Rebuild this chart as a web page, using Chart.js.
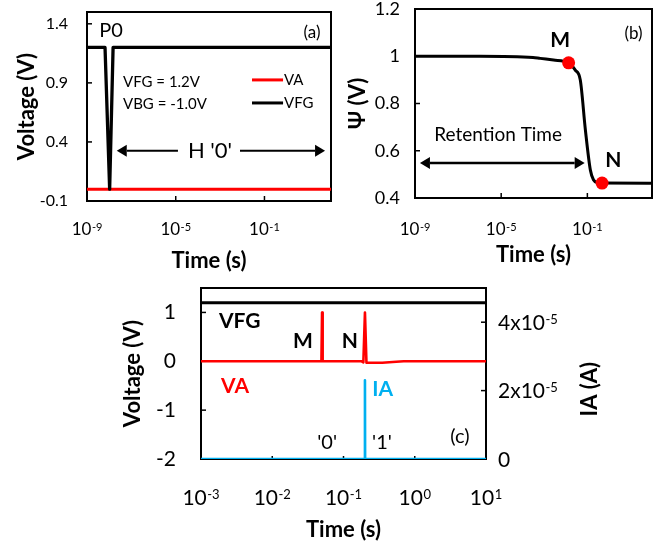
<!DOCTYPE html>
<html><head><meta charset="utf-8">
<script src="https://cdn.jsdelivr.net/npm/chart.js@4.4.0/dist/chart.umd.min.js"></script>
<style>
html,body{margin:0;padding:0;background:#fff;width:670px;height:545px;overflow:hidden}
#wrap{position:relative;width:670px;height:545px;background:#fff}
canvas{position:absolute}
</style></head><body>
<div id="wrap">
<canvas id="ca" width="345" height="275" style="left:0;top:0"></canvas>
<canvas id="cb" width="335" height="275" style="left:335px;top:0"></canvas>
<canvas id="cc" width="520" height="270" style="left:110px;top:275px"></canvas>
</div>
<script>
// ---------- Panel (a) ----------
const aTicksX = [1e-9, 1e-5, 1e-1];
const aTicksY = [-0.1, 0.4, 0.9, 1.4];
const aVATime = [1e-9, 100];
const aVA = [0, 0];
const aVFGTime = [1e-9, 6.5e-9, 1.05e-8, 1.5e-8, 100];
const aVFG = [1.2, 1.2, 0, 1.2, 1.2];
// ---------- Panel (b) ----------
const bTicksX = [1e-9, 1e-5, 1e-1];
const bTicksY = [0.4, 0.6, 0.8, 1.0, 1.2];
const bTime = [1e-9, 1e-6, 3e-4, 6.5e-4, 2.7e-3, 0.0135, 0.0275, 0.047, 0.081, 0.138, 0.195, 0.3, 0.48, 100];
const bPsi  = [1.0, 1.0, 0.995, 0.991, 0.984, 0.972, 0.941, 0.899, 0.688, 0.518, 0.476, 0.465, 0.463, 0.462];
const bMarkLabels = ['M', 'N'];
const bMarkTime = [0.0135, 0.48];
const bMarkPsi = [0.972, 0.463];
// ---------- Panel (c) ----------
const cTicksX = [1e-3, 1e-2, 1e-1, 1, 10];
const cTicksY = [-2, -1, 0, 1];
const cTicksIA = [0, 2e-5, 4e-5];
const cVFGTime = [1e-3, 10];
const cVFG = [1.2, 1.2];
const cVATime = [1e-3, 0.049, 0.05, 0.051, 0.18, 0.19, 0.2, 0.21, 0.35, 0.55, 0.7, 10];
const cVA     = [0, 0, 1, 0, 0, -0.02, 1, -0.03, -0.03, -0.01, 0, 0];
const cIATime = [1e-3, 0.199, 0.2, 0.201, 10];
const cIA     = [0, 0, 2.3e-5, 0, 0];

const FONT = "Lato, 'DejaVu Sans', sans-serif";
const RED = '#ff0000', BLUE = '#00b0f0', BLACK = '#000000';
Chart.defaults.font.family = FONT;
Chart.defaults.color = '#000';

const zip = (xs, ys) => xs.map((x, i) => ({x: x, y: ys[i]}));
const numLabel = v => String(+(+v).toFixed(3));
// power-of-ten label parts: [base, exponent]
const logParts = v => ['10', String(Math.round(Math.log10(v)))];
const iaParts = v => v === 0 ? ['0', ''] : [Math.round(v / 1e-5) + 'x10', '-5'];
const fixW = w => s => { s.width = w; s.paddingTop = 0; s.paddingBottom = 0; };
const fixH = h => s => { s.height = h; s.paddingLeft = 0; s.paddingRight = 0; };
const setTicks = vals => s => { s.ticks = vals.map(v => ({value: v})); };
const noGrid = {display: false, drawTicks: false};

function drawPow(ctx, base, exp, x, y, size, align) {
  const f1 = size + 'px ' + FONT, s2 = Math.round(size * 0.62), f2 = s2 + 'px ' + FONT;
  ctx.font = f1; const w1 = ctx.measureText(base).width;
  ctx.font = f2; const w2 = exp ? ctx.measureText(exp).width + 0.5 : 0;
  const total = w1 + w2;
  const x0 = align === 'left' ? x : x - total / 2;
  const baseY = y + size * 0.36;
  ctx.textAlign = 'left'; ctx.textBaseline = 'alphabetic';
  ctx.font = f1; ctx.fillText(base, x0, baseY);
  if (exp) { ctx.font = f2; ctx.fillText(exp, x0 + w1 + 0.5, baseY - size * 0.72 + s2 * 0.72); }
}

const deco = {
  id: 'deco',
  beforeDatasetsDraw(chart, args, opts) {
    const ctx = chart.ctx, ca = chart.chartArea;
    ctx.save();
    ctx.strokeStyle = '#000';
    ctx.lineWidth = 2;
    ctx.strokeRect(ca.left, ca.top, ca.right - ca.left, ca.bottom - ca.top);
    ctx.lineWidth = 1.5;
    (opts.marks || []).forEach(m => {
      const s = chart.scales[m.axis];
      const L = m.len || 5;
      m.values.forEach(v => {
        const p = s.getPixelForValue(v);
        ctx.beginPath();
        if (m.axis === 'x') { ctx.moveTo(p, ca.bottom); ctx.lineTo(p, ca.bottom - L); }
        else if (s.position === 'left') { ctx.moveTo(ca.left, p); ctx.lineTo(ca.left + L, p); }
        else { ctx.moveTo(ca.right, p); ctx.lineTo(ca.right - L, p); }
        ctx.stroke();
      });
    });
    // tick labels with raised exponents, taken from the scales' own ticks
    ctx.fillStyle = '#000';
    (opts.powLabels || []).forEach(pl => {
      const s = chart.scales[pl.axis];
      s.ticks.forEach(t => {
        const [b, e] = pl.parts(t.value);
        const p = s.getPixelForValue(t.value);
        if (pl.axis === 'x') drawPow(ctx, b, e, p, ca.bottom + pl.gap, pl.size, 'center');
        else drawPow(ctx, b, e, ca.right + pl.gap, p, pl.size, 'left');
      });
    });
    ctx.restore();
  },
  afterDatasetsDraw(chart, args, opts) {
    const ctx = chart.ctx, ca = chart.chartArea;
    const xs = chart.scales.x;
    (opts.items || []).forEach(it => {
      const ys = chart.scales[it.axis || 'y'];
      const y = ys.getPixelForValue(it.y);
      ctx.save();
      if (it.type === 'seg') {
        ctx.strokeStyle = it.color; ctx.lineWidth = it.width || 3;
        ctx.beginPath();
        ctx.moveTo(xs.getPixelForValue(it.x1), y);
        ctx.lineTo(xs.getPixelForValue(it.x2), y);
        ctx.stroke();
      } else if (it.type === 'arrow') {
        const x1 = xs.getPixelForValue(it.x1), x2 = xs.getPixelForValue(it.x2);
        const hl = it.head || 10, hw = it.hw || 6;
        ctx.strokeStyle = '#000'; ctx.fillStyle = '#000'; ctx.lineWidth = it.width || 2;
        const heads = it.both ? [[x1, 1], [x2, -1]] : [[x2, x2 > x1 ? -1 : 1]];
        const a = it.both ? x1 + hl : x1;
        const b = x2 + (x2 > x1 ? -hl : hl);
        ctx.beginPath(); ctx.moveTo(a, y); ctx.lineTo(b, y); ctx.stroke();
        heads.forEach(([hx, dir]) => {
          ctx.beginPath();
          ctx.moveTo(hx, y);
          ctx.lineTo(hx + dir * hl, y - hw);
          ctx.lineTo(hx + dir * hl, y + hw);
          ctx.closePath(); ctx.fill();
        });
      } else {
        const x = it.fromRight !== undefined ? ca.right + it.fromRight : xs.getPixelForValue(it.x);
        ctx.font = (it.bold ? 'bold ' : '') + (it.size || 16) + 'px ' + FONT;
        ctx.fillStyle = it.color || '#000';
        ctx.textAlign = it.align || 'center';
        ctx.textBaseline = 'middle';
        ctx.translate(x, y);
        if (it.rotate) ctx.rotate(it.rotate * Math.PI / 180);
        ctx.fillText(it.text, 0, 0);
      }
      ctx.restore();
    });
  }
};

const common = {
  responsive: false, animation: false, devicePixelRatio: 1,
  elements: {point: {radius: 0, hoverRadius: 0}, line: {borderJoinStyle: 'round', tension: 0}},
  events: []
};

// ---------- Chart (a) ----------
new Chart(document.getElementById('ca'), {
  type: 'line',
  data: {datasets: [
    {label: 'VFG', data: zip(aVFGTime, aVFG), borderColor: BLACK, borderWidth: 3.3, order: 0},
    {label: 'VA', data: zip(aVATime, aVA), borderColor: RED, borderWidth: 3, order: 1}
  ]},
  options: Object.assign({}, common, {
    layout: {padding: {left: 0, top: 12, right: 14, bottom: 0}},
    plugins: {legend: {display: false}, tooltip: {enabled: false},
      deco: {
        marks: [{axis: 'x', values: [1e-5, 1e-1]}, {axis: 'y', values: [0.4, 0.9, 1.4]}],
        powLabels: [{axis: 'x', parts: logParts, size: 17, gap: 28}],
        items: [
          {text: 'P0', x: 1.2e-8, y: 1.34, size: 20},
          {text: '(a)', x: 14, y: 1.33, size: 17},
          {text: 'VFG = 1.2V', x: 4.2e-8, y: 0.91, size: 15, align: 'left'},
          {text: 'VBG = -1.0V', x: 4.2e-8, y: 0.72, size: 15, align: 'left'},
          {type: 'seg', x1: 0.0275, x2: 0.69, y: 0.925, color: RED, width: 3},
          {text: 'VA', x: 0.76, y: 0.925, size: 15, align: 'left'},
          {type: 'seg', x1: 0.0275, x2: 0.69, y: 0.73, color: BLACK, width: 3},
          {text: 'VFG', x: 0.76, y: 0.73, size: 15, align: 'left'},
          {type: 'arrow', x1: 1.26e-5, x2: 2.2e-8, y: 0.325},
          {type: 'arrow', x1: 7.9e-3, x2: 54, y: 0.325},
          {text: "H '0'", x: 3.5e-4, y: 0.325, size: 22}
        ]
      }},
    scales: {
      x: {type: 'logarithmic', min: 1e-9, max: 100, afterFit: fixH(74), afterBuildTicks: setTicks(aTicksX),
        grid: noGrid, border: {display: false}, ticks: {display: false},
        title: {display: true, text: 'Time (s)', font: {size: 22, weight: 'bold'}, padding: {top: 0, bottom: 1}}},
      y: {type: 'linear', min: -0.1, max: 1.5, afterFit: fixW(87), afterBuildTicks: setTicks(aTicksY),
        grid: noGrid, border: {display: false},
        ticks: {font: {size: 16}, padding: 19, callback: numLabel},
        title: {display: true, text: 'Voltage (V)', font: {size: 22, weight: 'bold'}, padding: {top: 14, bottom: 0}}}
    }
  }),
  plugins: [deco]
});

// ---------- Chart (b) ----------
new Chart(document.getElementById('cb'), {
  type: 'line',
  data: {datasets: [
    {label: 'Markers', data: zip(bMarkTime, bMarkPsi), showLine: false, pointRadius: 6.5,
      pointBackgroundColor: RED, pointBorderWidth: 0, borderColor: RED, order: 0},
    {label: 'Psi', data: zip(bTime, bPsi), borderColor: BLACK, borderWidth: 3, cubicInterpolationMode: 'monotone', order: 1}
  ]},
  options: Object.assign({}, common, {
    layout: {padding: {left: 0, top: 9, right: 18, bottom: 0}},
    plugins: {legend: {display: false}, tooltip: {enabled: false},
      deco: {
        marks: [{axis: 'x', values: [1e-5, 1e-1]}, {axis: 'y', values: [0.6, 0.8, 1.0]}],
        powLabels: [{axis: 'x', parts: logParts, size: 17, gap: 31}],
        items: [
          {text: bMarkLabels[0], x: 5.5e-3, y: 1.069, size: 21, bold: true},
          {text: bMarkLabels[1], x: 1.6, y: 0.561, size: 21, bold: true},
          {text: '(b)', x: 14, y: 1.098, size: 17},
          {text: 'Retention Time', x: 7.2e-6, y: 0.667, size: 19},
          {type: 'arrow', both: true, x1: 1.7e-9, x2: 0.075, y: 0.548, width: 2.5}
        ]
      }},
    scales: {
      x: {type: 'logarithmic', min: 1e-9, max: 100, afterFit: fixH(77), afterBuildTicks: setTicks(bTicksX),
        grid: noGrid, border: {display: false}, ticks: {display: false},
        title: {display: true, text: 'Time (s)', font: {size: 22, weight: 'bold'}, padding: {top: 0, bottom: 7}}},
      y: {type: 'linear', min: 0.4, max: 1.2, afterFit: fixW(80), afterBuildTicks: setTicks(bTicksY),
        grid: noGrid, border: {display: false},
        ticks: {font: {size: 18}, padding: 15, callback: numLabel},
        title: {display: true, text: '\u03A8 (V)', font: {size: 22, weight: 'bold'}, padding: {top: 10, bottom: 0}}}
    }
  }),
  plugins: [deco]
});

// ---------- Chart (c) ----------
new Chart(document.getElementById('cc'), {
  type: 'line',
  data: {datasets: [
    {label: 'VFG', data: zip(cVFGTime, cVFG), borderColor: BLACK, borderWidth: 3, yAxisID: 'y', order: 2},
    {label: 'VA', data: zip(cVATime, cVA), borderColor: RED, borderWidth: 2.6, yAxisID: 'y', order: 1},
    {label: 'IA', data: zip(cIATime, cIA), borderColor: BLUE, borderWidth: 2.6, yAxisID: 'y1', order: 0}
  ]},
  options: Object.assign({}, common, {
    layout: {padding: {left: 0, top: 13, right: 0, bottom: 0}},
    plugins: {legend: {display: false}, tooltip: {enabled: false},
      deco: {
        marks: [{axis: 'x', values: [1e-2, 1e-1, 1], len: 3}, {axis: 'y', values: [-1, 0, 1]}, {axis: 'y1', values: [2e-5, 4e-5]}],
        powLabels: [{axis: 'x', parts: logParts, size: 21, gap: 38}, {axis: 'y1', parts: iaParts, size: 21, gap: 12}],
        items: [
          {text: 'VFG', x: 3.5e-3, y: 0.81, size: 21, bold: true},
          {text: 'M', x: 0.027, y: 0.41, size: 21, bold: true},
          {text: 'N', x: 0.123, y: 0.41, size: 21, bold: true},
          {text: 'VA', x: 3.0e-3, y: -0.51, size: 21, bold: true, color: RED},
          {text: 'IA', x: 0.355, y: -0.57, size: 21, bold: true, color: BLUE},
          {text: "'0'", x: 0.059, y: -1.67, size: 20},
          {text: "'1'", x: 0.347, y: -1.67, size: 20},
          {text: '(c)', x: 4.3, y: -1.55, size: 20},
          {text: 'IA (A)', fromRight: 104, y: -0.57, size: 22, bold: true, rotate: -90}
        ]
      }},
    scales: {
      x: {type: 'logarithmic', min: 1e-3, max: 10, afterFit: fixH(86), afterBuildTicks: setTicks(cTicksX),
        grid: noGrid, border: {display: false}, ticks: {display: false},
        title: {display: true, text: 'Time (s)', font: {size: 22, weight: 'bold'}, padding: {top: 0, bottom: 2}}},
      y: {type: 'linear', position: 'left', min: -2, max: 1.5, afterFit: fixW(91), afterBuildTicks: setTicks(cTicksY),
        grid: noGrid, border: {display: false},
        ticks: {font: {size: 21}, padding: 25, callback: numLabel},
        title: {display: true, text: 'Voltage (V)', font: {size: 22, weight: 'bold'}, padding: {top: 10, bottom: 0}}},
      y1: {type: 'linear', position: 'right', min: 0, max: 5e-5, afterFit: fixW(144), afterBuildTicks: setTicks(cTicksIA),
        grid: noGrid, border: {display: false}, ticks: {display: false}}
    }
  }),
  plugins: [deco]
});
</script>
</body></html>
